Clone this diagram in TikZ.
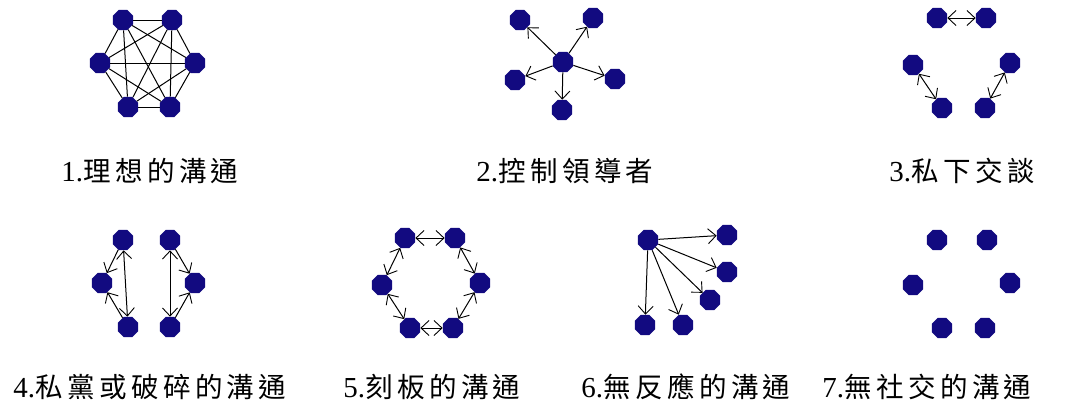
\documentclass[tikz,border=0pt]{standalone}
\usepackage{fontspec}
\setmainfont{Liberation Serif}
\newfontfamily\cjk[Scale=0.95,LetterSpace=16]{Noto Sans CJK TC}
\usetikzlibrary{shapes.geometric,arrows.meta}
\definecolor{dotblue}{RGB}{18,10,128}
\tikzset{
  dot/.style={regular polygon,regular polygon sides=8,
    fill=dotblue,draw=none,inner sep=0pt,minimum size=22pt},
  link/.style={draw=black,line width=1pt},
  tip/.tip={Straight Barb[length=8pt,width=15pt,line width=0.9pt]},
  arr/.style={link,-tip},
  bi/.style={link,tip-tip},
  lab/.style={font=\fontsize{29}{34}\selectfont,inner sep=0pt}
}
\begin{document}
\begin{tikzpicture}[x=1pt,y=-1pt]
\useasboundingbox[fill=white] (0,0) rectangle (1074,408);
% 1
\node[dot] (a1) at (123,20) {};
\node[dot] (a2) at (172,20) {};
\node[dot] (a3) at (100,63) {};
\node[dot] (a4) at (195,63) {};
\node[dot] (a5) at (128,107) {};
\node[dot] (a6) at (170,107) {};
\foreach \i/\j in {1/2,1/3,1/4,1/5,1/6,2/3,2/4,2/5,2/6,3/4,3/5,3/6,4/5,4/6,5/6}
  \draw[link] (a\i) -- (a\j);
% 2
\node[dot] (c) at (563,62) {};
\node[dot] (b1) at (520,20) {};
\node[dot] (b2) at (593,18) {};
\node[dot] (b3) at (515,80) {};
\node[dot] (b4) at (615,79) {};
\node[dot] (b5) at (562,110) {};
\foreach \j in {1,...,5} \draw[arr] (c) -- (b\j);
% 3
\node[dot] (p1) at (937,18) {};
\node[dot] (p2) at (986,18) {};
\node[dot] (p3) at (913,65) {};
\node[dot] (p4) at (942,108) {};
\node[dot] (p5) at (1010,63) {};
\node[dot] (p6) at (985,108) {};
\draw[bi] (p1) -- (p2);
\draw[bi] (p3) -- (p4);
\draw[bi] (p5) -- (p6);
% 4
\node[dot] (l1) at (123,240) {};
\node[dot] (l2) at (102,283) {};
\node[dot] (l3) at (128,327) {};
\node[dot] (r1) at (170,240) {};
\node[dot] (r2) at (195,283) {};
\node[dot] (r3) at (170,327) {};
\draw[arr] (l1) -- (l2);
\draw[arr] (l3) -- (l2);
\draw[bi] (l1) -- (l3);
\draw[arr] (r1) -- (r2);
\draw[arr] (r3) -- (r2);
\draw[bi] (r1) -- (r3);
% 5
\node[dot] (g1) at (405,238) {};
\node[dot] (g2) at (455,238) {};
\node[dot] (g3) at (480,283) {};
\node[dot] (g4) at (453,328) {};
\node[dot] (g5) at (410,328) {};
\node[dot] (g6) at (382,285) {};
\foreach \i/\j in {1/2,2/3,3/4,4/5,5/6,6/1} \draw[bi] (g\i) -- (g\j);
% 6
\node[dot] (s) at (648,240) {};
\node[dot] (s1) at (727,235) {};
\node[dot] (s2) at (727,272) {};
\node[dot] (s3) at (710,300) {};
\node[dot] (s4) at (683,325) {};
\node[dot] (s5) at (645,325) {};
\foreach \j in {1,...,5} \draw[arr] (s) -- (s\j);
% 7
\node[dot] (q1) at (937,240) {};
\node[dot] (q2) at (987,240) {};
\node[dot] (q3) at (913,285) {};
\node[dot] (q4) at (1010,283) {};
\node[dot] (q5) at (942,328) {};
\node[dot] (q6) at (985,328) {};
% labels
\node[lab] (t1) at (150,171) {1.{\cjk 理想的溝通}};
\node[lab] (t2) at (565,171) {2.{\cjk 控制領導者}};
\node[lab] (t3) at (962,171) {3.{\cjk 私下交談}};
\node[lab] (t4) at (150,387) {4.{\cjk 私黨或破碎的溝通}};
\node[lab] (t5) at (432,387) {5.{\cjk 刻板的溝通}};
\node[lab] (t6) at (686,387) {6.{\cjk 無反應的溝通}};
\node[lab] (t7) at (927,387) {7.{\cjk 無社交的溝通}};
\end{tikzpicture}
\end{document}
